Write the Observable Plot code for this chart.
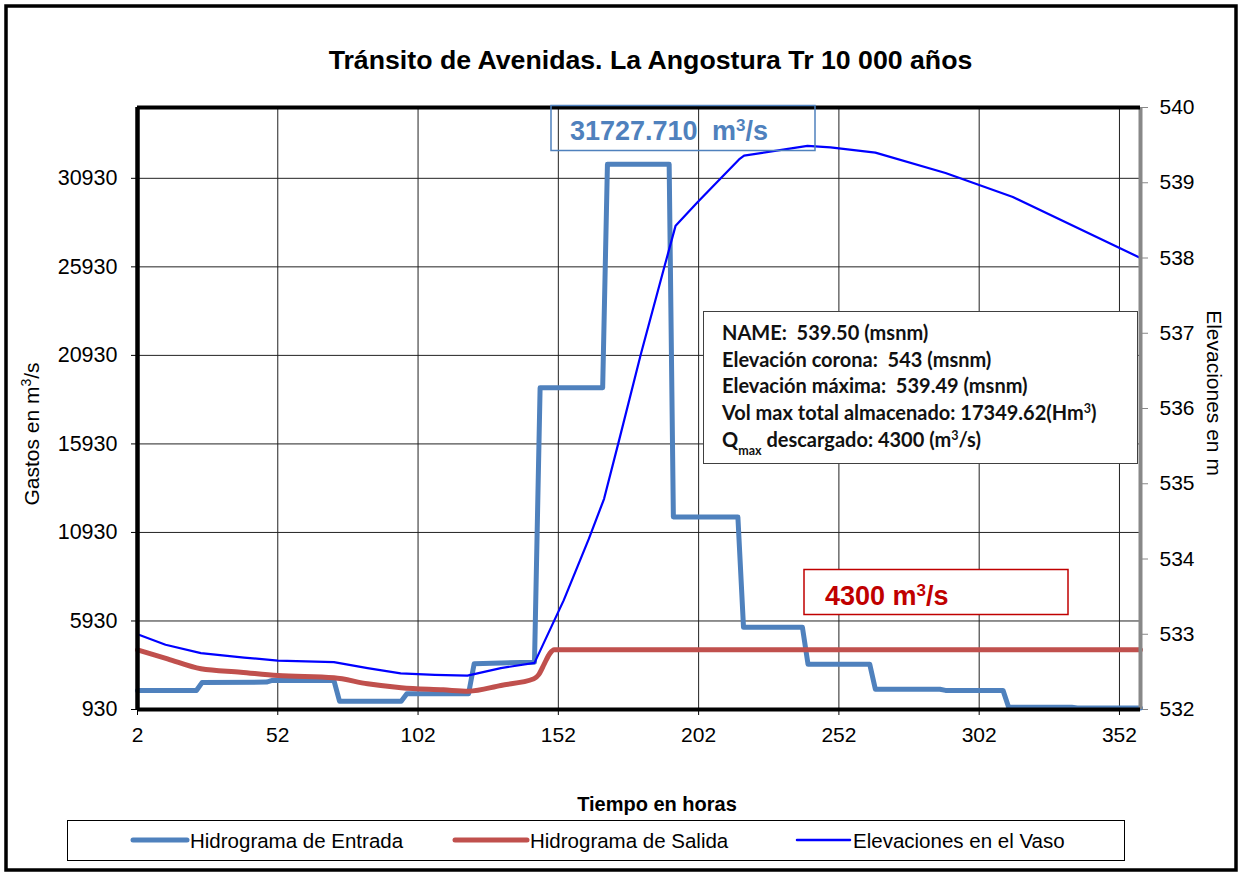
<!DOCTYPE html>
<html><head><meta charset="utf-8">
<script src="https://cdn.jsdelivr.net/npm/d3@7"></script>
<script src="https://cdn.jsdelivr.net/npm/@observablehq/plot@0.6"></script>
<style>
body{margin:0;background:#fff;}
#wrap{position:relative;width:1242px;height:876px;overflow:hidden;font-family:"Liberation Sans",Arial,sans-serif;background:#fff;}
#chart{position:absolute;left:0;top:0;}
#over{position:absolute;left:0;top:0;}
#over text{white-space:pre;}
</style></head>
<body><div id="wrap"><div id="chart"></div><svg id="over" width="1242" height="876" xmlns="http://www.w3.org/2000/svg"></svg></div>
<script>
// ---- data ----
const X_DOMAIN = [2, 359.5];
const Q_DOMAIN = [930, 34930];
const E_DOMAIN = [532, 540];
const xTicks = [2, 52, 102, 152, 202, 252, 302, 352];
const qTicks = [930, 5930, 10930, 15930, 20930, 25930, 30930];
const eTicks = [532, 533, 534, 535, 536, 537, 538, 539, 540];

const inflowHours = [2, 23, 25, 48, 50, 72, 74, 96, 98, 120, 122, 143.5, 145.5, 167.8, 169.5, 191.5, 193, 216, 218, 239, 241, 263, 265, 288, 290, 310.5, 312.5, 335, 337, 359.5];
const inflowQ = [2000, 2000, 2450, 2480, 2570, 2570, 1400, 1400, 1820, 1820, 3520, 3600, 19100, 19100, 31727.71, 31727.71, 11800, 11800, 5570, 5570, 3480, 3480, 2070, 2070, 2010, 2010, 1060, 1060, 1020, 1020];

const outflowHours = [2, 12.7, 24.6, 38.8, 52, 72, 84, 96, 111, 120, 131.5, 143.3, 145, 147, 149, 150.5, 359.5];
const outflowQ = [4300, 3790, 3230, 3040, 2850, 2720, 2380, 2160, 2040, 1965, 2290, 2665, 2900, 3510, 4100, 4300, 4300];

const elevHours = [2, 12, 24.6, 40, 52, 72, 84, 95.8, 108, 119.6, 131.5, 143.5, 153.9, 162.9, 168.3, 173.6, 181.4, 189.7, 193.8, 201.6, 216.4, 218.2, 240.8, 249, 265, 290, 314, 359.5];
const elevE = [533.00, 532.86, 532.75, 532.69, 532.65, 532.63, 532.55, 532.48, 532.46, 532.45, 532.55, 532.62, 533.45, 534.27, 534.80, 535.57, 536.72, 537.87, 538.43, 538.74, 539.31, 539.36, 539.49, 539.47, 539.40, 539.13, 538.81, 538.00];

const seriesNames = ["Hidrograma de Entrada", "Hidrograma de Salida", "Elevaciones en el Vaso"];
const seriesColors = ["#4F81BD", "#C0504D", "#0000FF"];

// ---- build ----
const toQ = e => Q_DOMAIN[0] + (e - E_DOMAIN[0]) * (Q_DOMAIN[1] - Q_DOMAIN[0]) / (E_DOMAIN[1] - E_DOMAIN[0]);
const fromQ = q => E_DOMAIN[0] + (q - Q_DOMAIN[0]) * (E_DOMAIN[1] - E_DOMAIN[0]) / (Q_DOMAIN[1] - Q_DOMAIN[0]);
const inflow = inflowHours.map((h, i) => ({h, q: inflowQ[i]}));
const outflow = outflowHours.map((h, i) => ({h, q: outflowQ[i]}));
const elev = elevHours.map((h, i) => ({h, q: toQ(elevE[i])}));

const plot = Plot.plot({
  width: 1242, height: 876,
  marginLeft: 137, marginRight: 102, marginTop: 107, marginBottom: 167,
  x: {domain: X_DOMAIN},
  y: {domain: Q_DOMAIN},
  style: {fontFamily: "'Liberation Sans', Arial, sans-serif", fontSize: "21px", color: "#000", background: "transparent"},
  marks: [
    Plot.ruleX(xTicks.slice(1), {stroke: "#222", strokeWidth: 1}),
    Plot.ruleY(qTicks.slice(1), {stroke: "#222", strokeWidth: 1}),
    Plot.axisX(xTicks, {anchor: "bottom", tickSize: 6, tickPadding: 12, fontSize: 21, label: null, tickFormat: d => String(d)}),
    Plot.axisY(qTicks, {anchor: "left", tickSize: 6, tickPadding: 14, fontSize: 21.5, label: null, tickFormat: d => String(d)}),
    Plot.axisY(eTicks.map(toQ), {anchor: "right", tickSize: 7, tickPadding: 12, fontSize: 21, label: null, stroke: "#888", tickFormat: q => String(Math.round(fromQ(q)))}),
    Plot.line(inflow, {x: "h", y: "q", stroke: seriesColors[0], strokeWidth: 5, strokeLinejoin: "round", strokeLinecap: "round"}),
    Plot.line(outflow, {x: "h", y: "q", stroke: seriesColors[1], strokeWidth: 5, strokeLinejoin: "round", strokeLinecap: "round", curve: "monotone-x"}),
    Plot.line(elev, {x: "h", y: "q", stroke: seriesColors[2], strokeWidth: 2.2, strokeLinejoin: "round"}),
    Plot.ruleX([X_DOMAIN[1]], {stroke: "#888", strokeWidth: 4}),
    Plot.ruleY([Q_DOMAIN[0]], {stroke: "#000", strokeWidth: 4}),
    Plot.ruleY([Q_DOMAIN[1]], {stroke: "#000", strokeWidth: 4}),
    Plot.ruleX([X_DOMAIN[0]], {stroke: "#000", strokeWidth: 4.5})
  ]
});
document.getElementById("chart").appendChild(plot);

// ---- overlay: titles, annotations, legend ----
const NS = "http://www.w3.org/2000/svg";
const over = document.getElementById("over");
function el(tag, attrs, text) {
  const e = document.createElementNS(NS, tag);
  for (const k in attrs) e.setAttribute(k, attrs[k]);
  if (text != null) e.textContent = text;
  over.appendChild(e);
  return e;
}
function tspan(parent, attrs, text) {
  const t = document.createElementNS(NS, "tspan");
  for (const k in attrs) t.setAttribute(k, attrs[k]);
  t.textContent = text;
  parent.appendChild(t);
  return t;
}
const F = "'Liberation Sans', Arial, sans-serif";
// outer border
el("rect", {x: 6, y: 6, width: 1230, height: 864, fill: "none", stroke: "#000", "stroke-width": 3.5});
// title
el("text", {x: 650.5, y: 69, "text-anchor": "middle", "font-family": F, "font-weight": "bold", "font-size": 26.7}, "Tránsito de Avenidas. La Angostura Tr 10 000 años");
// y label left
const yl = el("text", {transform: "translate(38.5,434) rotate(-90)", "text-anchor": "middle", "font-family": F, "font-size": 21});
tspan(yl, {}, "Gastos en m");
tspan(yl, {"baseline-shift": "super", "font-size": 14}, "3");
tspan(yl, {}, "/s");
// y label right
el("text", {transform: "translate(1207,393) rotate(90)", "text-anchor": "middle", "font-family": F, "font-size": 21}, "Elevaciones en m");
// x label
el("text", {x: 657, y: 811, "text-anchor": "middle", "font-family": F, "font-weight": "bold", "font-size": 20}, "Tiempo en horas");

// peak annotation
el("rect", {x: 551, y: 105.5, width: 264, height: 45, fill: "none", stroke: "#4F81BD", "stroke-width": 1.5});
const pk = el("text", {x: 570, y: 140, "font-family": F, "font-weight": "bold", "font-size": 27, fill: "#4F81BD"});
tspan(pk, {}, "31727.710");
tspan(pk, {x: 712}, "m");
tspan(pk, {"baseline-shift": "super", "font-size": 17}, "3");
tspan(pk, {}, "/s");

// 4300 annotation
el("rect", {x: 804, y: 569.5, width: 264, height: 45, fill: "#fff", stroke: "#C00000", "stroke-width": 1.5});
const q4 = el("text", {x: 825, y: 605, "font-family": F, "font-weight": "bold", "font-size": 27, fill: "#C00000"});
tspan(q4, {}, "4300 m");
tspan(q4, {"baseline-shift": "super", "font-size": 17}, "3");
tspan(q4, {}, "/s");

// info box
el("rect", {x: 703.5, y: 311.5, width: 434, height: 152, fill: "#fff", stroke: "#404040", "stroke-width": 1});
const FI = "Lato, 'Open Sans', sans-serif";
const infoLines = [
  [["NAME:  539.50 (msnm)"]],
  [["Elevación corona:  543 (msnm)"]],
  [["Elevación máxima:  539.49 (msnm)"]],
  [["Vol max total almacenado: 17349.62(Hm"], ["3", "super"], [")"]],
  [["Q"], ["max", "sub"], [" descargado: 4300 (m"], ["3", "super"], ["/s)"]]
];
infoLines.forEach((parts, i) => {
  const t = el("text", {x: 722, y: 340 + i * 26.7, "font-family": FI, "font-weight": "bold", "font-size": 20, fill: "#111"});
  parts.forEach(p => {
    if (p[1]) tspan(t, {"baseline-shift": p[1], "font-size": 12.5}, p[0]);
    else tspan(t, {}, p[0]);
  });
});

// legend
el("rect", {x: 67.5, y: 820.5, width: 1057, height: 40, fill: "#fff", stroke: "#000", "stroke-width": 1});
const leg = [
  {x1: 133, x2: 187, tx: 190, w: 5},
  {x1: 455, x2: 527, tx: 530, w: 5},
  {x1: 797, x2: 850, tx: 853, w: 2.5}
];
leg.forEach((l, i) => {
  el("line", {x1: l.x1, x2: l.x2, y1: 840, y2: 840, stroke: seriesColors[i], "stroke-width": l.w, "stroke-linecap": "round"});
  el("text", {x: l.tx, y: 847.5, "font-family": F, "font-size": 20.5}, seriesNames[i]);
});
</script>
</body></html>
